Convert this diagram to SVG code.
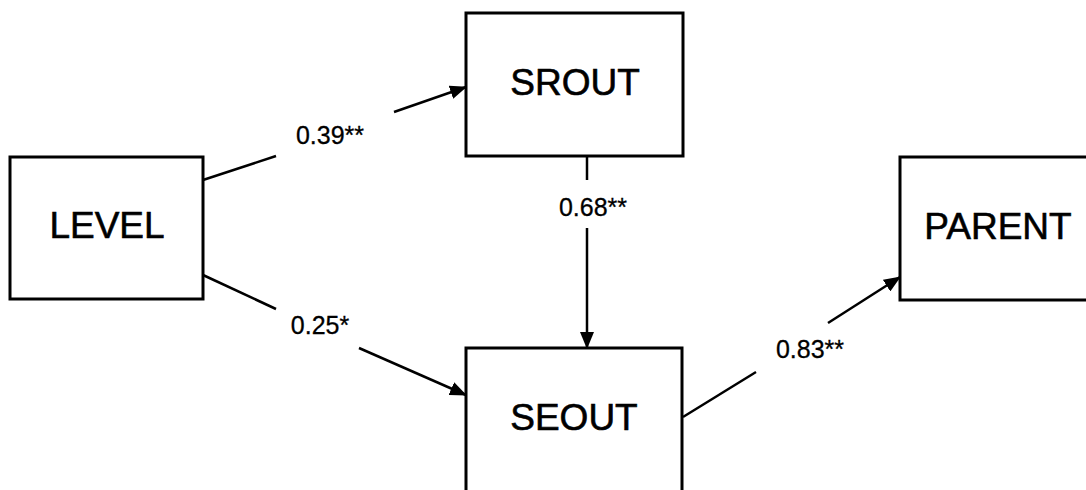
<svg xmlns="http://www.w3.org/2000/svg" width="1086" height="490" viewBox="0 0 1086 490">
<style>
.box{fill:#fff;stroke:#000;stroke-width:3}
.lbl{font-family:"Liberation Sans",Arial,sans-serif;font-size:37px;fill:#000;stroke:#000;stroke-width:0.6;text-anchor:middle}
.coef{font-family:"Liberation Sans",Arial,sans-serif;font-size:25px;fill:#000;stroke:#000;stroke-width:0.3;text-anchor:middle}
.ln{stroke:#000;stroke-width:2.5;fill:none}
</style>
<defs>
<marker id="ah" markerWidth="17" markerHeight="14" refX="16" refY="7" orient="auto" markerUnits="userSpaceOnUse">
<path d="M0,0 L17,7 L0,14 z" fill="#000"/>
</marker>
</defs>
<rect width="1086" height="490" fill="#fff"/>
<g id="LEVEL"><rect class="box" x="10" y="157" width="193" height="142"/><text class="lbl" x="107" y="238">LEVEL</text></g>
<g id="SROUT"><rect class="box" x="466" y="13" width="217" height="143"/><text class="lbl" x="575" y="95">SROUT</text></g>
<g id="SEOUT"><rect class="box" x="466" y="348" width="216" height="160"/><text class="lbl" x="574" y="430">SEOUT</text></g>
<g id="PARENT"><rect class="box" x="900" y="157" width="210" height="143"/><text class="lbl" x="998" y="239">PARENT</text></g>
<g id="connectors">
<line class="ln" x1="203" y1="180" x2="276" y2="156"/>
<line class="ln" x1="394" y1="112" x2="466" y2="87" marker-end="url(#ah)"/>
<text class="coef" x="330" y="144">0.39**</text>
<line class="ln" x1="203" y1="275" x2="276" y2="309"/>
<line class="ln" x1="359" y1="348" x2="466" y2="395" marker-end="url(#ah)"/>
<text class="coef" x="320" y="334">0.25*</text>
<line class="ln" x1="587" y1="156" x2="587" y2="180"/>
<line class="ln" x1="587" y1="228" x2="587" y2="348" marker-end="url(#ah)"/>
<text class="coef" x="593" y="216">0.68**</text>
<line class="ln" x1="683" y1="417" x2="756" y2="372"/>
<line class="ln" x1="828" y1="323" x2="900" y2="277" marker-end="url(#ah)"/>
<text class="coef" x="810" y="358">0.83**</text>
</g>
</svg>
